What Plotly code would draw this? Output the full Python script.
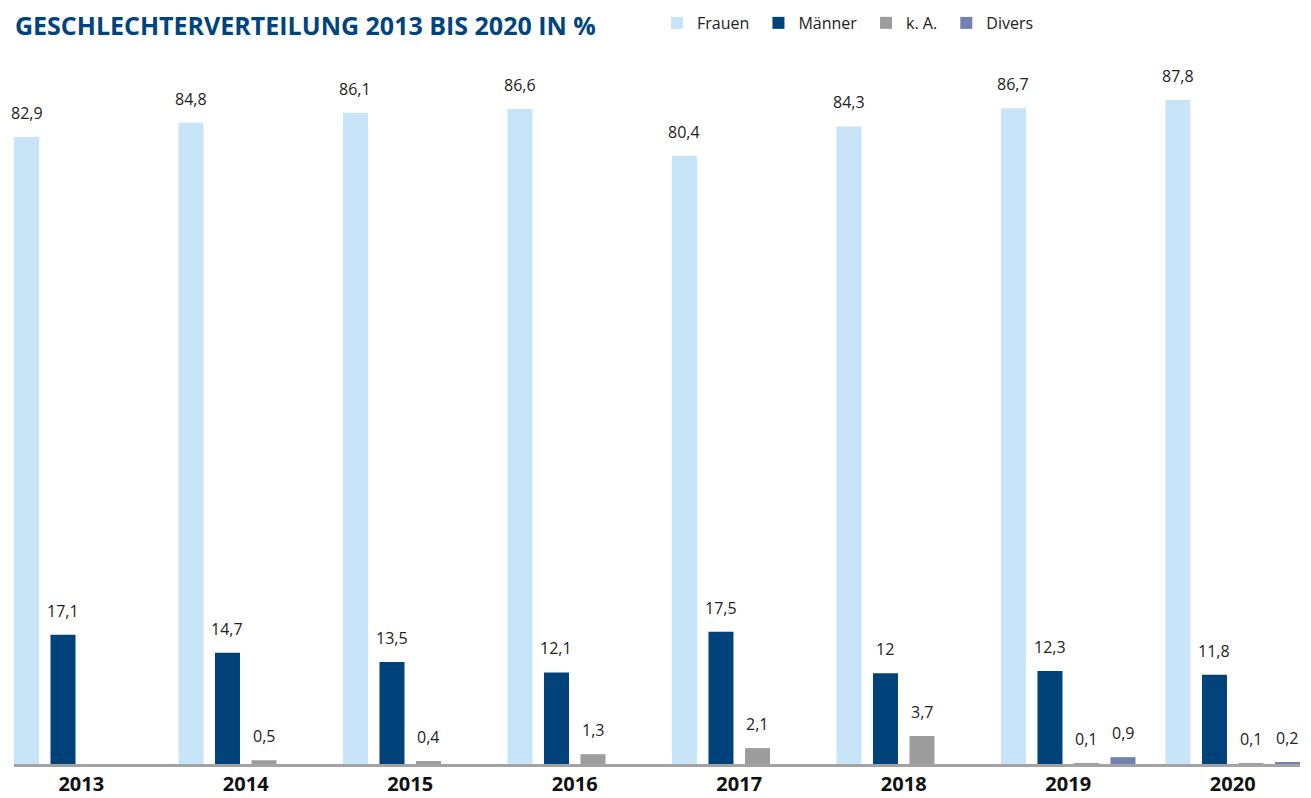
import plotly.graph_objects as go

years = ["2013", "2014", "2015", "2016", "2017", "2018", "2019", "2020"]
frauen = [82.9, 84.8, 86.1, 86.6, 80.4, 84.3, 86.7, 87.8]
maenner = [17.1, 14.7, 13.5, 12.1, 17.5, 12.0, 12.3, 11.8]
ka = [None, 0.5, 0.4, 1.3, 2.1, 3.7, 0.1, 0.1]
divers = [None, None, None, None, None, None, 0.9, 0.2]

series = [
    ("Frauen", frauen, "#c8e4f8"),
    ("Männer", maenner, "#00427a"),
    ("k. A.", ka, "#9d9d9d"),
    ("Divers", divers, "#7480ae"),
]

BARGAP = 0.1125
GROUPGAP = 0.315

fig = go.Figure()
for name, vals, col in series:
    fig.add_trace(go.Bar(name=name + "\u00a0", x=years, y=vals, marker_color=col,
                         marker_line_width=0, hoverinfo="skip"))

def fmt(v):
    s = ("%.1f" % v).rstrip("0").rstrip(".")
    return s.replace(".", ",")

annotations = []
n = len(series)
slot = (1 - BARGAP) / n
for j, (name, vals, col) in enumerate(series):
    for i, v in enumerate(vals):
        if v is None:
            continue
        xpos = i - (1 - BARGAP) / 2 + (j + 0.5) * slot
        annotations.append(dict(x=xpos, y=v, xref="x", yref="y", text=fmt(v),
                                showarrow=False, yanchor="bottom", yshift=11,
                                font=dict(family="Open Sans", size=16, color="#222222")))

annotations.append(dict(x=0, y=1, xref="paper", yref="paper", xanchor="left", yanchor="middle",
                        yshift=35, xshift=-1, showarrow=False,
                        text="<b>GESCHLECHTERVERTEILUNG 2013 BIS 2020 IN %</b>",
                        font=dict(family="Open Sans", size=25, color="#00447f")))

# page body has an 8px default margin; figure sized so it ends at the window edge
fig.update_layout(
    width=1303, height=790,
    margin=dict(l=6, r=11, t=52, b=34, autoexpand=False),
    paper_bgcolor="white", plot_bgcolor="white",
    barmode="group", bargap=BARGAP, bargroupgap=GROUPGAP,
    showlegend=True,
    legend=dict(orientation="h", x=0.5, y=1.0526, xanchor="left", yanchor="middle",
                font=dict(family="Open Sans", size=16, color="#222222"),
                itemclick=False, itemdoubleclick=False),
    annotations=annotations,
    font=dict(family="Open Sans"),
)
fig.update_xaxes(type="category", range=[-0.4088, 7.409], showline=True, linecolor="#a3a3a3",
                 linewidth=3, ticks="", showgrid=False,
                 tickfont=dict(family="Open Sans", size=20, color="#111111", weight="bold"))
fig.update_yaxes(range=[0, 93.09], showgrid=False, zeroline=False, showticklabels=False,
                 showline=False)

fig.write_html("out.html")
